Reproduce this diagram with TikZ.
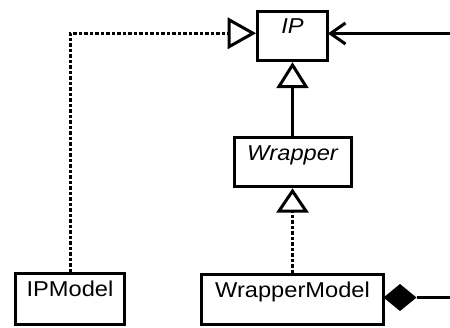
\documentclass[tikz,border=0pt]{standalone}
\usepackage{fontspec}
\setmainfont[FakeStretch=1.1]{Liberation Sans}
\usetikzlibrary{calc}
\begin{document}
\begin{tikzpicture}[x=1pt,y=-1pt,
  box/.style={draw,line width=3pt,inner sep=0pt,minimum width=#1},
  lbl/.style={anchor=base,inner sep=0pt,font=\fontsize{21.5}{25}\selectfont},
  conn/.style={line width=3pt},
  dots/.style={line width=3pt,dash pattern=on 3.5pt off 2pt},
  head/.style={line width=3pt,line join=miter,fill=white},
  barb/.style={line width=3pt,line join=miter},
  diam/.style={fill=black}
]
\useasboundingbox (0,0) rectangle (450,327);
\node[box=70pt,minimum height=49.5pt] (ip) at (292.5,35.75) {};
\node[box=117pt,minimum height=49pt] (wr) at (292.5,162) {};
\node[box=109pt,minimum height=51pt] (ipm) at (70,299) {};
\node[box=182pt,minimum height=50pt] (wm) at (292.5,299.5) {};
\node[lbl] (tip) at ([yshift=-23.5pt]ip.north) {\itshape IP};
\node[lbl] (twr) at ([yshift=-24pt]wr.north) {\itshape Wrapper};
\node[lbl] (tipm) at ([yshift=-24.5pt]ipm.north) {IPModel};
\node[lbl] (twm) at ([yshift=-24pt]wm.north) {WrapperModel};
\coordinate (r1) at (450,33.5);
\coordinate (r2) at (450,297.5);
% realization IPModel -> IP
\coordinate (t1) at ($(ip.west)+(-3,-2.5)$);
\coordinate (b1) at ($(t1)+(-24,0)$);
\draw[dots] (ipm.north) |- (b1);
\draw[head] (t1) -- ++(-24,-13.5) -- ++(0,27) -- cycle;
% generalization Wrapper -> IP
\coordinate (t2) at ($(ip.south)+(0,3)$);
\coordinate (b2) at ($(t2)+(0,21.5)$);
\draw[conn] (wr.north) -- (b2);
\draw[head] (t2) -- ++(-13.5,21.5) -- ++(27,0) -- cycle;
% realization WrapperModel -> Wrapper
\coordinate (t3) at ($(wr.south)+(0,3)$);
\coordinate (b3) at ($(t3)+(0,20)$);
\draw[dots] (wm.north) -- (b3);
\draw[head] (t3) -- ++(-13.5,20) -- ++(27,0) -- cycle;
% association -> IP
\coordinate (t4) at ($(ip.east)+(1.5,-2.25)$);
\draw[conn] (r1) -- (t4);
\draw[barb] ($(t4)+(15,-10.5)$) -- (t4) -- ($(t4)+(15,10.5)$);
% composition at WrapperModel
\coordinate (d0) at ($(wm.east)+(-1.5,-2)$);
\coordinate (d1) at ($(d0)+(33,0)$);
\fill[diam] (d0) -- ++(16.5,-13.5) -- (d1) -- ++(-16.5,13.5) -- cycle;
\draw[conn] (d1) -- (r2);
\end{tikzpicture}
\end{document}
